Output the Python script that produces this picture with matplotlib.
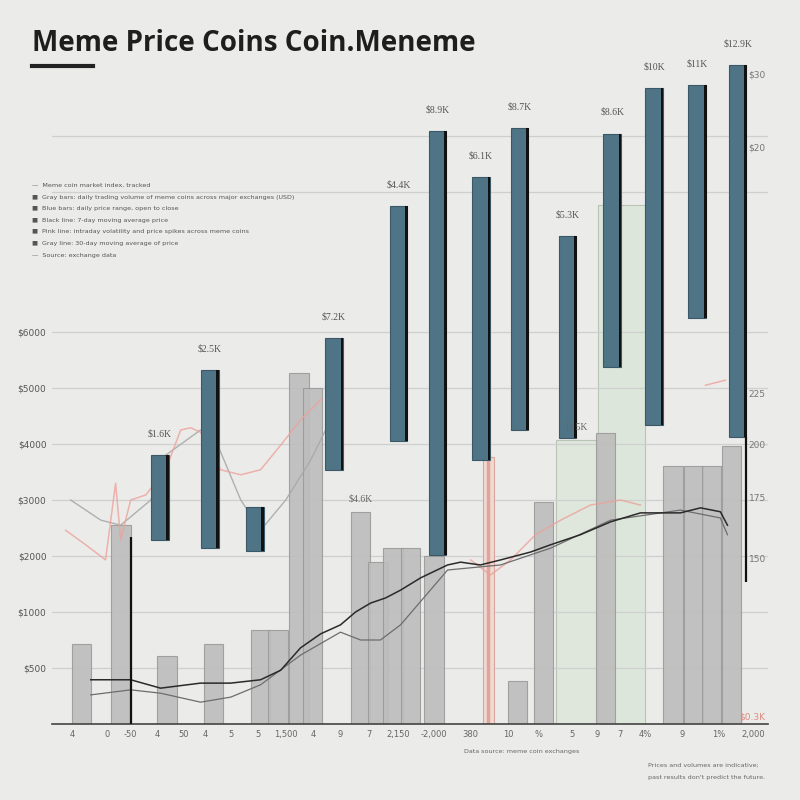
import matplotlib
matplotlib.use("Agg")
import matplotlib.pyplot as plt
import numpy as np

# ---------------- data ----------------
vol_x = [0.30, 1.64, 3.19, 4.76, 6.35, 6.93, 7.64, 8.11, 9.73, 10.32, 10.83, 11.42,
         12.21, 15.03, 15.91, 18.0, 20.29, 20.98, 21.59, 22.26]
vol_h = [1.43, 3.55, 1.21, 1.43, 1.68, 1.68, 6.27, 6.0, 3.79, 2.9, 3.14, 3.14,
         3.0, 0.77, 3.96, 5.2, 4.6, 4.6, 4.6, 4.96]

spike_x = [14.04]
spike_h = [4.77]

zone_x = [17.03, 18.55]
zone_h = [5.07, 9.27]

price_x = [2.94, 4.63, 6.15, 8.83, 11.01, 12.33, 13.8, 15.1, 16.72, 18.23, 19.65, 21.11, 22.47]
price_low = [3.29, 3.14, 3.09, 4.54, 5.05, 3.02, 4.71, 5.25, 5.11, 6.38, 5.34, 7.25, 5.13]
price_high = [4.8, 6.32, 3.875, 6.89, 9.25, 10.59, 9.77, 10.64, 8.71, 10.54, 11.36, 11.41, 11.77]
price_labels = ["$1.6K", "$2.5K", "", "$7.2K", "$4.4K", "$8.9K", "$6.1K", "$8.7K",
                "$5.3K", "$8.6K", "$10K", "$11K", "$12.9K"]

trend_x = [0.61, 1.96, 2.97, 4.32, 5.34, 6.35, 7.03, 7.70, 8.38, 9.05, 9.56, 10.07, 10.57,
           11.08, 11.76, 12.67, 13.11, 13.78, 14.46, 15.47, 16.15, 17.16, 18.18, 19.19,
           20.54, 21.22, 21.89, 22.13]
trend_y = [0.79, 0.79, 0.64, 0.73, 0.73, 0.79, 0.96, 1.36, 1.61, 1.77, 2.0, 2.16, 2.25,
           2.39, 2.61, 2.84, 2.89, 2.84, 2.93, 3.07, 3.2, 3.38, 3.61, 3.77, 3.77, 3.86,
           3.79, 3.55]

ma30_x = [0.61, 1.96, 2.97, 4.32, 5.34, 6.35, 7.70, 9.05, 9.73, 10.40, 11.08, 12.67,
          14.46, 16.15, 18.18, 20.54, 21.89, 22.13]
ma30_y = [0.52, 0.61, 0.55, 0.39, 0.48, 0.70, 1.23, 1.64, 1.50, 1.50, 1.77, 2.75,
          2.84, 3.14, 3.64, 3.82, 3.68, 3.38]

vola_x = [-0.24, 0.44, 1.11, 1.45, 1.62, 1.96, 2.47, 3.14, 3.65, 3.99, 4.32, 5.0, 5.68,
          6.35, 7.03, 7.70, 8.38, 8.9, 13.45, 14.12, 14.8, 15.64, 16.49, 17.5, 18.51,
          19.19, 20.5, 21.39, 22.06]
vola_y = [3.46, 3.2, 2.93, 4.3, 3.29, 4.0, 4.09, 4.54, 5.25, 5.29, 5.21, 4.54, 4.45,
          4.54, 4.98, 5.43, 5.79, np.nan, 2.93, 2.66, 2.93, 3.38, 3.64, 3.91, 4.0,
          3.91, np.nan, 6.05, 6.14]

swing_x = [-0.07, 0.95, 1.62, 2.64, 3.14, 4.32, 4.83, 5.68, 6.35, 7.2, 8.04, 8.72]
swing_y = [4.0, 3.64, 3.55, 4.0, 4.8, 5.25, 5.07, 4.0, 3.46, 4.0, 4.71, 5.43]

x_ticks = [0.0, 1.15, 1.96, 2.87, 3.75, 4.49, 5.34, 6.25, 7.2, 8.14, 9.05, 10.0, 11.01,
           12.2, 13.45, 14.73, 15.74, 16.89, 17.74, 18.51, 19.36, 20.61, 21.82, 23.0]
x_labels = ["4", "0", "-50", "4", "50", "4", "5", "5", "1,500", "4", "9", "7", "2,150",
            "-2,000", "380", "10", "%", "5", "9", "7", "4%", "9", "1%", "2,000"]

y_ticks = [1, 2, 3, 4, 5, 6, 7]
y_labels = ["$500", "$1000", "$2000", "$3000", "$4000", "$5000", "$6000"]

r_ticks = [2.96, 4.05, 5.0, 5.9, 10.3, 11.6]
r_labels = ["150", "175", "200", "225", "$20", "$30"]

extra_labels = [(9.73, 3.79, "$4.6K"), (17.03, 5.07, "D 5K")]

legend_lines = [
    "\u2014  Meme coin market index, tracked",
    "\u25a0  Gray bars: daily trading volume of meme coins across major exchanges (USD)",
    "\u25a0  Blue bars: daily price range, open to close",
    "\u25a0  Black line: 7-day moving average price",
    "\u25a0  Pink line: intraday volatility and price spikes across meme coins",
    "\u25a0  Gray line: 30-day moving average of price",
    "\u2014  Source: exchange data",
]

# ---------------- figure ----------------
BG = "#ebebea"
fig = plt.figure(figsize=(8, 8), dpi=100, facecolor=BG)
ax = fig.add_axes([0.065, 0.095, 0.895, 0.875])
ax.set_facecolor(BG)
ax.set_xlim(-0.7, 23.5)
ax.set_ylim(0, 12.5)

# gridlines
ax.set_yticks(y_ticks)
ax.set_yticklabels(y_labels)
ax.set_yticks([9.5, 10.5], minor=True)
ax.grid(axis="y", which="both", color="#cfcfcf", linewidth=0.9, zorder=0)
ax.tick_params(axis="y", which="both", length=0, labelsize=6.5, labelcolor="#555555", pad=4)
ax.set_xticks(x_ticks)
ax.set_xticklabels(x_labels)
ax.tick_params(axis="x", length=0, labelsize=6, labelcolor="#666666", pad=4)
for s in ["top", "right", "left"]:
    ax.spines[s].set_visible(False)
ax.spines["bottom"].set_color("#444444")
ax.spines["bottom"].set_linewidth(1.2)

# light green zone columns
ax.bar(zone_x[0], zone_h[0], width=1.4, color="#dfe7dc", edgecolor="#b9c3b6",
       linewidth=0.8, zorder=1)
ax.bar(zone_x[1], zone_h[1], width=1.6, color="#dce6da", edgecolor="#b9c3b6",
       linewidth=0.8, zorder=1)

# volume bars
ax.bar(vol_x, vol_h, width=0.66, color="#bdbdbd", edgecolor="#9a9a9a",
       linewidth=0.8, alpha=0.9, zorder=2)
ax.bar(spike_x, spike_h, width=0.37, color="#efd9d4", edgecolor="#d9a69a",
       linewidth=0.8, zorder=2)
ax.vlines(spike_x, 0, spike_h, color="#d98f80", linewidth=2.5, alpha=0.7, zorder=2)

# lines
ax.plot(swing_x, swing_y, color="#a9a9a9", linewidth=1.0, alpha=0.9, zorder=3)
ax.plot(vola_x, vola_y, color="#eba39a", linewidth=1.1, alpha=0.8, zorder=3)
ax.plot(ma30_x, ma30_y, color="#6d6d6d", linewidth=0.9, zorder=4)
ax.plot(trend_x, trend_y, color="#2a2a2a", linewidth=1.1, zorder=4)

# price range bars
heights = [h - l for h, l in zip(price_high, price_low)]
ax.bar(price_x, heights, bottom=price_low, width=0.6, color="#4e7486",
       edgecolor="#3b5866", linewidth=0.8, zorder=5)
ax.bar([x + 0.27 for x in price_x], heights, bottom=price_low, width=0.09,
       color="#111111", linewidth=0, zorder=6)
for x, top, lab in zip(price_x, price_high, price_labels):
    if lab:
        ax.text(x, top + 0.3, lab, ha="center", va="bottom", fontsize=7,
                color="#555555", family="Liberation Serif", zorder=7)
for x, top, lab in extra_labels:
    ax.text(x, top + 0.15, lab, ha="center", va="bottom", fontsize=7,
            color="#666666", family="Liberation Serif", zorder=7)

# dark edges on a few bars
ax.vlines([vol_x[1] + 0.33], 0, vol_h[1] * 0.94, color="#111111", linewidth=1.6, zorder=5)
ax.vlines([price_x[-1] + 0.3], price_low[-1] - 2.6, price_low[-1], color="#111111",
          linewidth=1.6, zorder=5)

# right axis labels
ax2 = ax.twinx()
ax2.set_ylim(ax.get_ylim())
ax2.set_yticks(r_ticks)
ax2.set_yticklabels(r_labels)
ax2.tick_params(axis="y", length=0, labelsize=6.5, labelcolor="#777777", pad=-14)
for s in ax2.spines.values():
    s.set_visible(False)

ax.text(23.4, 0.05, "$0.3K", ha="right", va="bottom", fontsize=6.5,
        color="#e08a80", zorder=7)

# title and decorations
fig.text(0.04, 0.936, "Meme Price Coins Coin.Meneme", fontsize=20, fontweight="bold",
         family="Open Sans", color="#1e1e1e", ha="left", va="baseline")
fig.add_artist(plt.Line2D([0.04, 0.116], [0.918, 0.918], color="#222222",
                          linewidth=3, transform=fig.transFigure))

for i, line in enumerate(legend_lines):
    fig.text(0.04, 0.768 - i * 0.0145, line, fontsize=4.6, color="#555555",
             ha="left", va="center")

fig.text(0.58, 0.06, "Data source: meme coin exchanges", fontsize=4.6,
         color="#666666", ha="left", va="center")
fig.text(0.81, 0.044, "Prices and volumes are indicative;",
         fontsize=4.6, color="#666666", ha="left", va="center")
fig.text(0.81, 0.028, "past results don't predict the future.",
         fontsize=4.6, color="#666666", ha="left", va="center")

fig.savefig("out.png", dpi=100, facecolor=BG)
